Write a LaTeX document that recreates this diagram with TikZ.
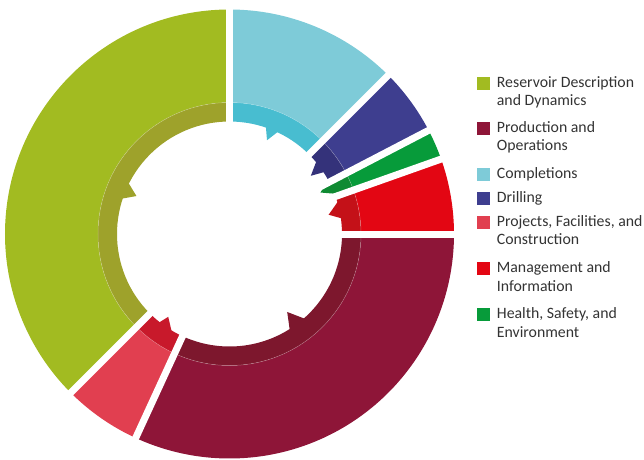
\documentclass[tikz,border=0pt]{standalone}
\usepackage{fontspec}
\setmainfont{Carlito}
\definecolor{resO}{HTML}{A2BB21}\definecolor{resB}{HTML}{9EA22B}
\definecolor{prodO}{HTML}{8E1538}\definecolor{prodB}{HTML}{7D172D}
\definecolor{compO}{HTML}{7ECBD8}\definecolor{compB}{HTML}{48BDD0}
\definecolor{drilO}{HTML}{3E3E8F}\definecolor{drilB}{HTML}{34327A}
\definecolor{projO}{HTML}{E13F50}\definecolor{projB}{HTML}{C8192B}
\definecolor{mgmtO}{HTML}{E30613}\definecolor{mgmtB}{HTML}{C41118}
\definecolor{hseO}{HTML}{079B3A}\definecolor{hseB}{HTML}{0F8A32}
\definecolor{txt}{HTML}{333333}
% #1 cw angle, #2 ccw angle, #3 outer colour, #4 band colour
\newcommand\segfill[4]{%
  \fill[#3] (#1:131.5pt) -- (#1:224.5pt) arc[start angle=#1, end angle=#2, radius=224.5pt]
     -- (#2:131.5pt) arc[start angle=#2, end angle=#1, radius=131.5pt] -- cycle;
  \fill[#4] (#1:112.5pt) -- (#1:131.5pt) arc[start angle=#1, end angle=#2, radius=131.5pt]
     -- (#2:112.5pt) arc[start angle=#2, end angle=#1, radius=112.5pt] -- cycle;}
% #1 colour, #2 ccw base, #3 tip angle, #4 tip radius, #5 cw base
\newcommand\toothfill[5]{%
  \fill[#1] (#2:112.5pt) -- (#3:#4pt) -- (#5:112.5pt) -- (#5:120pt) -- (#2:120pt) -- cycle;}
\tikzset{
  gapline/.style={white, line width=7pt},
  legsq/.style={anchor=north west, inner sep=0pt, minimum width=13.5pt, minimum height=13pt},
  legtext/.style={anchor=base west, align=left, inner sep=0pt, text=txt,
    font=\fontsize{15.8}{18.5}\selectfont}
}
\begin{document}
\begin{tikzpicture}[x=1pt,y=1pt]
\useasboundingbox (-229.5,-225) rectangle (414.5,234);
\coordinate (c) at (0,0);
% segments
\segfill{90}{225}{resO}{resB}
\segfill{45}{90}{compO}{compB}
\segfill{27.5}{45}{drilO}{drilB}
\segfill{19.5}{27.5}{hseO}{hseB}
\segfill{0}{19.5}{mgmtO}{mgmtB}
\segfill{-114.7}{0}{prodO}{prodB}
\segfill{-135}{-114.7}{projO}{projB}
% teeth
\toothfill{resB}{161.6}{157.8}{100.5}{153.4}
\toothfill{compB}{71.1}{68.2}{101}{64.8}
\toothfill{drilB}{39.7}{35.6}{100}{33.3}
\toothfill{hseB}{29}{24.5}{100}{21}
\toothfill{mgmtB}{16.4}{11}{101}{8.1}
\toothfill{prodB}{-48.6}{-53.5}{97}{-57.7}
\toothfill{projB}{238.9}{233.5}{103}{231.6}
% faint seam
\draw[white, opacity=0.3, line width=0.5pt] (c) circle (131.5pt);
% gaps
\foreach \a in {90,45,27.5,19.5,0,-114.7,-135}
  \draw[gapline] (c) -- (\a:235pt);
% legend
\node[legsq, fill=resO]  (s1) at (247,157.3) {};
\node[legsq, fill=prodO] (s2) at (247,112.3) {};
\node[legsq, fill=compO] (s3) at (247,66) {};
\node[legsq, fill=drilO] (s4) at (247,42.3) {};
\node[legsq, fill=projO] (s5) at (247,18.3) {};
\node[legsq, fill=mgmtO] (s6) at (247,-28) {};
\node[legsq, fill=hseO]  (s7) at (247,-74) {};
% (base anchor of a two-line node = baseline of its last line)
\node[legtext] (t1) at (267.2,128.3) {Reservoir Description\\and Dynamics};
\node[legtext] (t2) at (267.2,83.3) {Production and\\Operations};
\node[legtext] (t3) at (267.2,55.5) {Completions};
\node[legtext] (t4) at (267.2,31.8) {Drilling};
\node[legtext] (t5) at (267.2,-10.7) {Projects, Facilities, and\\Construction};
\node[legtext] (t6) at (267.2,-57) {Management and\\Information};
\node[legtext] (t7) at (267.2,-103) {Health, Safety, and\\Environment};
\end{tikzpicture}
\end{document}
